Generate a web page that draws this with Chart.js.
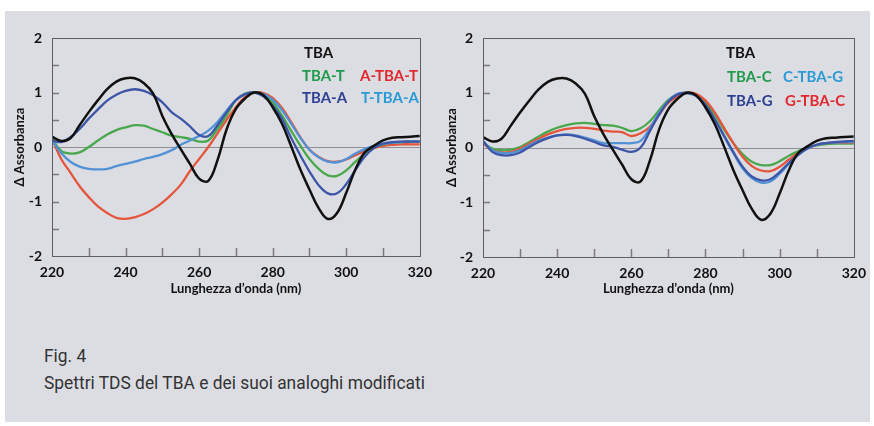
<!DOCTYPE html>
<html>
<head>
<meta charset="utf-8">
<script src="https://cdn.jsdelivr.net/npm/chart.js@4.4.1/dist/chart.umd.min.js"></script>
<style>
  html, body { margin: 0; padding: 0; background: #fff; width: 874px; height: 426px; overflow: hidden; }
  #panel { position: absolute; left: 5px; top: 11px; width: 865px; height: 411px; background: #dcdde3; }
  canvas { position: absolute; top: 0; }
  #chartL { left: 0; }
  #chartR { left: 440px; }
  .cap { position: absolute; left: 44px; font-family: Roboto, sans-serif; font-size: 18px; color: #333;
         white-space: nowrap; transform: scaleX(0.965); transform-origin: left top; }
</style>
</head>
<body>
<div id="panel"></div>
<canvas id="chartL" width="440" height="300"></canvas>
<canvas id="chartR" width="434" height="300"></canvas>
<div class="cap" style="top:345px">Fig. 4</div>
<div class="cap" style="top:372px">Spettri TDS del TBA e dei suoi analoghi modificati</div>
<script>
// Wavelength grid (nm), shared by all spectra
const wavelengths = [
  220, 222.5, 225, 227.5, 230, 232.5, 235, 237.5, 240, 242.5,
  245, 247.5, 250, 252.5, 255, 257.5, 260, 262.5, 265, 267.5,
  270, 272.5, 275, 277.5, 280, 282.5, 285, 287.5, 290, 292.5,
  295, 297.5, 300, 302.5, 305, 307.5, 310, 312.5, 315, 317.5, 320
];

// TDS spectra (normalised ΔA)
const tba = [
  0.19, 0.11, 0.16, 0.40, 0.64, 0.86, 1.06, 1.20, 1.26, 1.26,
  1.17, 0.98, 0.57, 0.24, -0.04, -0.31, -0.58, -0.62, -0.24, 0.33,
  0.70, 0.89, 1.00, 0.95, 0.73, 0.43, 0.02, -0.41, -0.78, -1.12,
  -1.32, -1.21, -0.84, -0.41, -0.10, 0.02, 0.12, 0.17, 0.18, 0.19, 0.20
];
// left panel
const tbaT = [
  0.15, -0.07, -0.12, -0.10, 0.00, 0.12, 0.23, 0.31, 0.36, 0.40,
  0.39, 0.33, 0.27, 0.21, 0.18, 0.15, 0.10, 0.12, 0.33, 0.58,
  0.86, 0.98, 1.00, 0.96, 0.82, 0.58, 0.30, 0.03, -0.22, -0.40,
  -0.52, -0.53, -0.43, -0.27, -0.12, -0.01, 0.05, 0.08, 0.09, 0.10, 0.10
];
const aTbaT = [
  0.15, -0.22, -0.47, -0.72, -0.92, -1.09, -1.21, -1.30, -1.32, -1.29,
  -1.23, -1.14, -1.02, -0.87, -0.69, -0.44, -0.22, 0.00, 0.25, 0.50,
  0.73, 0.92, 1.00, 0.99, 0.90, 0.72, 0.46, 0.18, -0.05, -0.18,
  -0.26, -0.27, -0.23, -0.15, -0.08, -0.02, 0.02, 0.04, 0.05, 0.05, 0.05
];
const tbaA = [
  0.12, 0.09, 0.18, 0.33, 0.52, 0.69, 0.85, 0.96, 1.03, 1.06,
  1.03, 0.95, 0.82, 0.64, 0.52, 0.38, 0.22, 0.20, 0.40, 0.64,
  0.86, 0.97, 1.00, 0.93, 0.76, 0.52, 0.17, -0.15, -0.45, -0.70,
  -0.85, -0.85, -0.68, -0.42, -0.18, -0.02, 0.06, 0.09, 0.10, 0.10, 0.10
];
const tTbaA = [
  0.12, -0.11, -0.27, -0.36, -0.40, -0.41, -0.40, -0.35, -0.31, -0.27,
  -0.22, -0.18, -0.13, -0.06, 0.04, 0.12, 0.20, 0.30, 0.46, 0.67,
  0.86, 0.97, 1.00, 0.97, 0.87, 0.68, 0.43, 0.17, -0.05, -0.19,
  -0.27, -0.28, -0.22, -0.12, -0.04, 0.02, 0.06, 0.08, 0.09, 0.10, 0.10
];
// right panel
const tbaC = [
  0.09, -0.02, -0.05, -0.04, 0.01, 0.10, 0.20, 0.29, 0.36, 0.41,
  0.44, 0.45, 0.43, 0.41, 0.40, 0.36, 0.30, 0.35, 0.48, 0.68,
  0.87, 0.97, 1.00, 0.96, 0.82, 0.60, 0.33, 0.08, -0.12, -0.26,
  -0.32, -0.32, -0.25, -0.15, -0.07, 0.00, 0.04, 0.06, 0.07, 0.07, 0.07
];
const cTbaG = [
  0.12, -0.05, -0.10, -0.10, -0.05, 0.04, 0.12, 0.18, 0.22, 0.24,
  0.22, 0.18, 0.13, 0.08, 0.08, 0.08, 0.08, 0.12, 0.35, 0.63,
  0.85, 0.98, 0.99, 0.94, 0.76, 0.50, 0.20, -0.10, -0.38, -0.56,
  -0.64, -0.62, -0.48, -0.30, -0.14, -0.02, 0.05, 0.08, 0.09, 0.10, 0.10
];
const tbaG = [
  0.12, -0.08, -0.14, -0.14, -0.09, 0.01, 0.10, 0.17, 0.22, 0.23,
  0.21, 0.16, 0.10, 0.04, 0.01, -0.04, -0.08, 0.00, 0.30, 0.60,
  0.84, 0.97, 1.00, 0.95, 0.78, 0.52, 0.22, -0.08, -0.35, -0.53,
  -0.60, -0.58, -0.45, -0.28, -0.13, -0.02, 0.05, 0.08, 0.10, 0.11, 0.12
];
const gTbaC = [
  0.08, -0.05, -0.09, -0.08, -0.02, 0.07, 0.16, 0.24, 0.30, 0.34,
  0.36, 0.36, 0.34, 0.31, 0.29, 0.28, 0.21, 0.26, 0.38, 0.60,
  0.82, 0.93, 1.00, 0.98, 0.86, 0.64, 0.36, 0.08, -0.17, -0.34,
  -0.42, -0.43, -0.35, -0.22, -0.10, -0.01, 0.05, 0.08, 0.09, 0.09, 0.09
];

// Labelled ticks (other ticks get only a tick mark)
const xTickLabels = [220, 240, 260, 280, 300, 320];
const yTickLabels = [-2, -1, 0, 1, 2];

// ─── Colours ────────────────────────────────────────────────────────────────
const LINE = { black: "#111111", green: "#4aa84c", red: "#e5553b", blue: "#3d55a6", light: "#5191d6" };
const TEXT = { black: "#111111", green: "#1f9a4a", red: "#e0282e", blue: "#2d3f92", light: "#2a9bd5" };
const FONT = "Lato, 'Open Sans', sans-serif";

// Frame, inward ticks, zero line and in-plot legend
const framePlugin = {
  id: "frame",
  beforeDatasetsDraw(chart) {
    const { ctx, chartArea: a, scales: { y } } = chart;
    const y0 = Math.round(y.getPixelForValue(0)) + 0.5;
    ctx.save();
    ctx.strokeStyle = "#8e8e93";
    ctx.lineWidth = 1;
    ctx.beginPath(); ctx.moveTo(a.left, y0); ctx.lineTo(a.right, y0); ctx.stroke();
    ctx.restore();
  },
  afterDatasetsDraw(chart) {
    const { ctx, chartArea: a, scales: { x, y } } = chart;
    ctx.save();
    ctx.strokeStyle = "#7a7a7e";
    ctx.lineWidth = 1.5;
    ctx.beginPath();
    y.ticks.forEach((t) => {
      if (t.value === y.min || t.value === y.max || t.value === 0) return;
      const py = Math.round(y.getPixelForValue(t.value)) + 0.5;
      ctx.moveTo(a.left, py); ctx.lineTo(a.left + 7, py);
    });
    x.ticks.forEach((t) => {
      if (t.value === x.min || t.value === x.max) return;
      const px = Math.round(x.getPixelForValue(t.value)) + 0.5;
      ctx.moveTo(px, a.bottom); ctx.lineTo(px, a.bottom - 8);
    });
    ctx.stroke();
    ctx.strokeStyle = "#5f5f63";
    ctx.lineWidth = 1;
    ctx.strokeRect(Math.round(a.left) + 0.5, Math.round(a.top) + 0.5, Math.round(a.right - a.left), Math.round(a.bottom - a.top));
    ctx.restore();
  },
  afterDraw(chart, args, opts) {
    const { ctx } = chart;
    ctx.save();
    ctx.font = "bold 15px " + FONT;
    ctx.textBaseline = "middle";
    (opts.items || []).forEach((it) => {
      const ds = chart.data.datasets[it.index];
      ctx.fillStyle = ds.textColor;
      ctx.fillText(ds.label, it.x, it.y);
    });
    ctx.restore();
  },
};

function makeChart(canvasId, series, layout) {
  return new Chart(document.getElementById(canvasId), {
    type: "line",
    data: {
      labels: wavelengths,
      datasets: series.map((s) => ({
        label: s.label,
        data: wavelengths.map((w, i) => ({ x: w, y: s.data[i] })),
        borderColor: LINE[s.color],
        textColor: TEXT[s.color],
        borderWidth: s.color === "black" ? 2.5 : 2.3,
        pointRadius: 0,
        tension: 0.4,
        fill: false,
        order: s.order,
      })),
    },
    options: {
      responsive: false,
      animation: false,
      events: [],
      layout: { padding: { top: 38, right: layout.padRight, bottom: 0, left: 0 } },
      plugins: {
        legend: { display: false },
        tooltip: { enabled: false },
        frame: { items: layout.legend },
      },
      scales: {
        x: {
          type: "linear", min: 220, max: 320,
          grid: { display: false, drawTicks: false },
          border: { display: false },
          ticks: {
            stepSize: 10, padding: 8, maxRotation: 0, autoSkip: false,
            color: "#111", font: { family: FONT, size: 14, weight: "bold" },
            callback: (v) => (xTickLabels.includes(v) ? String(v) : ""),
          },
          title: {
            display: true, text: "Lunghezza d’onda (nm)", color: "#111",
            font: { family: FONT, size: 13, weight: "bold" }, padding: { top: 0, bottom: 3 },
          },
          afterFit: (s) => { s.height = layout.xHeight; },
        },
        y: {
          min: -2, max: 2,
          grid: { display: false, drawTicks: false },
          border: { display: false },
          ticks: {
            stepSize: 0.5, padding: 10, autoSkip: false,
            color: "#111", font: { family: FONT, size: 14, weight: "bold" },
            callback: (v) => (yTickLabels.includes(v) ? String(v) : ""),
          },
          title: {
            display: true, text: "Δ Assorbanza", color: "#111",
            font: { family: FONT, size: 13, weight: "bold" }, padding: { top: layout.yTitlePad, bottom: 0 },
          },
          afterFit: (s) => { s.width = layout.yWidth; },
        },
      },
    },
    plugins: [framePlugin],
  });
}

makeChart("chartL", [
  { label: "TBA", data: tba, color: "black", order: 0 },
  { label: "TBA-T", data: tbaT, color: "green", order: 3 },
  { label: "A-TBA-T", data: aTbaT, color: "red", order: 4 },
  { label: "TBA-A", data: tbaA, color: "blue", order: 1 },
  { label: "T-TBA-A", data: tTbaA, color: "light", order: 2 },
], {
  padRight: 11, xHeight: 44, yWidth: 52, yTitlePad: 12,
  legend: [
    { index: 0, x: 304, y: 53 },
    { index: 1, x: 302, y: 76 },
    { index: 2, x: 360, y: 76 },
    { index: 3, x: 302, y: 98 },
    { index: 4, x: 361, y: 98 },
  ],
});

makeChart("chartR", [
  { label: "TBA", data: tba, color: "black", order: 0 },
  { label: "TBA-C", data: tbaC, color: "green", order: 4 },
  { label: "C-TBA-G", data: cTbaG, color: "light", order: 2 },
  { label: "TBA-G", data: tbaG, color: "blue", order: 1 },
  { label: "G-TBA-C", data: gTbaC, color: "red", order: 3 },
], {
  padRight: 17, xHeight: 43, yWidth: 43, yTitlePad: 4,
  legend: [
    { index: 0, x: 286, y: 53 },
    { index: 1, x: 287, y: 77 },
    { index: 2, x: 343, y: 77 },
    { index: 3, x: 287, y: 101 },
    { index: 4, x: 345, y: 101 },
  ],
});
</script>
</body>
</html>
